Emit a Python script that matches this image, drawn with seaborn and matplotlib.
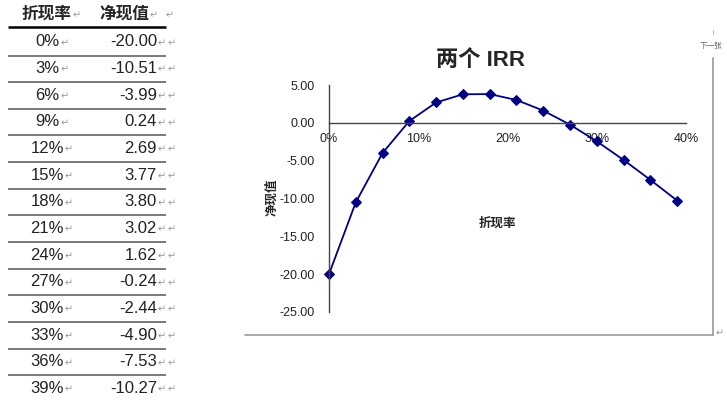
import matplotlib
matplotlib.use("Agg")
import matplotlib.pyplot as plt
import seaborn as sns
import pandas as pd
from matplotlib.ticker import FuncFormatter, MultipleLocator

# ---- data ----
rates = [0, 3, 6, 9, 12, 15, 18, 21, 24, 27, 30, 33, 36, 39]          # 折现率 (%)
npv = [-20.00, -10.51, -3.99, 0.24, 2.69, 3.77, 3.80, 3.02, 1.62,
       -0.24, -2.44, -4.90, -7.53, -10.27]                                  # 净现值
col_headers = ["折现率", "净现值"]
title = "两个 IRR"
x_label = "折现率"
y_label = "净现值"

sns.set_style("white")
plt.rcParams['font.family'] = ['Liberation Sans', 'Noto Sans CJK SC', 'DejaVu Sans']
plt.rcParams['axes.unicode_minus'] = False

W, H = 727, 400
fig = plt.figure(figsize=(W / 100, H / 100), dpi=100)
renderer = fig.canvas.get_renderer()

# overlay in pixel coords for table / frame
ov = fig.add_axes([0, 0, 1, 1])
ov.set_xlim(0, W)
ov.set_ylim(H, 0)
ov.axis("off")

mark_kw = dict(fontsize=7, color="#999999", family=['DejaVu Sans'], va="center")


def right_edge(t):
    bb = t.get_window_extent(renderer=renderer)
    return bb.x1  # pixels == data x in overlay (0..W)


# ---- table ----
t = ov.text(47, 14, col_headers[0], fontsize=12, fontweight="bold", ha="center", va="center",
            family=['Noto Sans CJK SC'])
ov.text(right_edge(t) + 1, 15, "↵", ha="left", **mark_kw)
t = ov.text(124, 14, col_headers[1], fontsize=12, fontweight="bold", ha="center", va="center",
            family=['Noto Sans CJK SC'])
ov.text(right_edge(t) + 1, 15, "↵", ha="left", **mark_kw)
ov.text(166, 15, "↵", ha="left", **mark_kw)
ov.plot([8, 166], [27, 27], color="black", lw=1.8, solid_capstyle="butt")

step = 26.65
for i, (r, v) in enumerate(zip(rates, npv)):
    y = 42 + step * i
    t = ov.text(47, y, f"{r}%", fontsize=12, ha="center", va="center", color="#222222")
    ov.text(right_edge(t) + 1, y + 1, "↵", ha="left", **mark_kw)
    ov.text(157, y, f"{v:.2f}", fontsize=12, ha="right", va="center", color="#222222")
    ov.text(158, y + 1, "↵", ha="left", **mark_kw)
    ov.text(168, y + 1, "↵", ha="left", **mark_kw)
    if i < len(rates) - 1:
        ly = 55.5 + step * i
        ov.plot([8, 166], [ly, ly], color="#555555", lw=1.1, solid_capstyle="butt")

# ---- chart frame ----
ov.plot([245, 713], [335, 335], color="#999999", lw=1.2)
ov.plot([713, 713], [58, 335], color="#999999", lw=1.2)
ov.plot([713, 713], [30, 34], color="#bbbbbb", lw=0.8)
ov.text(711, 46, "下一张", fontsize=5.5, ha="center", va="center", color="#666666",
        family=['Noto Sans CJK SC'])
ov.text(716, 333, "↵", ha="left", **mark_kw)

# ---- chart ----
left, right, top, bottom = 329, 686, 85, 312
ax = fig.add_axes([left / W, 1 - bottom / H, (right - left) / W, (bottom - top) / H])
ax.set_facecolor("none")
df = pd.DataFrame({"rate": [r / 100 for r in rates], "npv": npv})
sns.lineplot(data=df, x="rate", y="npv", ax=ax, color="#000080", lw=1.3,
             marker="D", markersize=5, markeredgecolor="#000080", clip_on=False)
ax.set_xlim(0, 0.4)
ax.set_ylim(-25, 5)
ax.set_xlabel("")
ax.set_ylabel("")
ax.xaxis.set_major_locator(MultipleLocator(0.1))
ax.yaxis.set_major_locator(MultipleLocator(5))
ax.xaxis.set_major_formatter(FuncFormatter(lambda v, p: f"{v*100:.0f}%"))
ax.yaxis.set_major_formatter(FuncFormatter(lambda v, p: f"{v:.2f}"))
for s in ["top", "right"]:
    ax.spines[s].set_visible(False)
ax.spines["bottom"].set_position(("data", 0))
for s in ["left", "bottom"]:
    ax.spines[s].set_color("#444444")
    ax.spines[s].set_linewidth(1.0)
ax.tick_params(axis="both", direction="in", length=3, width=1, color="#444444",
               labelsize=9, labelcolor="#222222")
ax.tick_params(axis="x", pad=7)
ax.tick_params(axis="y", pad=10)

fig.text(480 / W, 1 - 60 / H, title, fontsize=16, fontweight="bold", ha="center", va="center",
         family=['Liberation Sans', 'Noto Sans CJK SC'])
fig.text(272 / W, 1 - 197 / H, y_label, fontsize=9, fontweight="bold", rotation=90,
         ha="center", va="center", family=['Noto Sans CJK SC'])
fig.text(497 / W, 1 - 223 / H, x_label, fontsize=9, fontweight="bold",
         ha="center", va="center", family=['Noto Sans CJK SC'])

fig.savefig("out.png", dpi=100, facecolor="white")
